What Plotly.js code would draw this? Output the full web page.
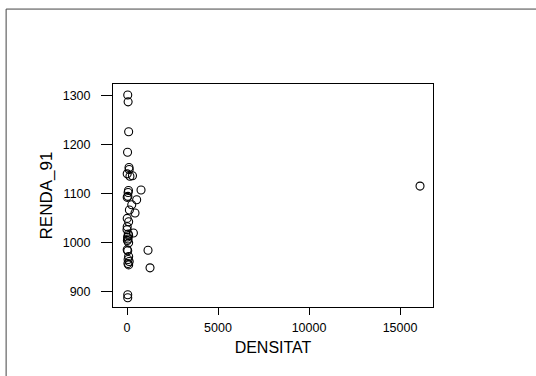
<!DOCTYPE html>
<html>
<head>
<meta charset="utf-8">
<script src="https://cdn.plot.ly/plotly-3.0.1.min.js"></script>
<style>html,body{margin:0;padding:0;background:#fff;}#chart{width:536px;height:376px;}</style>
</head>
<body>
<div id="chart"></div>
<script>
const densitat = [40, 60, 90, 30, 110, 120, 10, 160, 300, 80, 60, 770, 10, 50, 530, 260, 130, 440, 10, 90, 10, 0, 350, 90, 30, 60, 20, 90, 10, 40, 1154, 90, 60, 120, 90, 1264, 40, 40, 16100, 70, 50];
const renda91 = [1302, 1288, 1227, 1185, 1154, 1150, 1141, 1136, 1137, 1107, 1103, 1108, 1093, 1095, 1088, 1078, 1067, 1061, 1050, 1043, 1033, 1027, 1020, 1015, 1012, 1008, 1005, 1000, 986, 984, 985, 972, 966, 962, 955, 949, 894, 888, 1116, 1018, 958];
const xTicks = [0, 5000, 10000, 15000];
const yTicks = [900, 1000, 1100, 1200, 1300];
const xTitle = 'DENSITAT';
const yTitle = 'RENDA_91';

const font = 'Arial, "Liberation Sans", sans-serif';
const trace = {
  x: densitat, y: renda91, type: 'scatter', mode: 'markers',
  marker: {symbol: 'circle-open', size: 8, color: '#000', line: {width: 1.1, color: '#000'}},
  hoverinfo: 'skip'
};
const layout = {
  width: 536, height: 376,
  margin: {l: 113, r: 103, t: 84, b: 69},
  paper_bgcolor: '#fff', plot_bgcolor: '#fff',
  showlegend: false,
  font: {family: font, color: '#000', size: 12},
  xaxis: {
    range: [-770, 16813], tickvals: xTicks, ticktext: xTicks.map(String),
    ticks: 'outside', ticklen: 7, tickcolor: '#000', tickwidth: 1,
    showgrid: false, zeroline: false, showline: true, mirror: true, linecolor: '#000', linewidth: 1,
    tickfont: {family: font, size: 12.5, color: '#000'},
    ticklabelstandoff: 2,
    title: {text: xTitle, font: {family: font, size: 16, color: '#000'}, standoff: 7}
  },
  yaxis: {
    range: [869, 1324.5], tickvals: yTicks, ticktext: yTicks.map(String),
    ticks: 'outside', ticklen: 11, tickcolor: '#000', tickwidth: 1,
    showgrid: false, zeroline: false, showline: true, mirror: true, linecolor: '#000', linewidth: 1,
    tickfont: {family: font, size: 12.5, color: '#000'},
    ticklabelstandoff: 8,
    title: {text: yTitle, font: {family: font, size: 17, color: '#000'}, standoff: 5}
  },
  shapes: [
    {type: 'line', xref: 'paper', yref: 'paper', x0: -0.334, x1: -0.334, y0: -0.31, y1: 1.336, line: {color: '#444', width: 1}},
    {type: 'line', xref: 'paper', yref: 'paper', x0: -0.334, x1: 1.33, y0: 1.336, y1: 1.336, line: {color: '#444', width: 1}}
  ]
};
Plotly.newPlot('chart', [trace], layout, {staticPlot: true, displayModeBar: false});
</script>
</body>
</html>
